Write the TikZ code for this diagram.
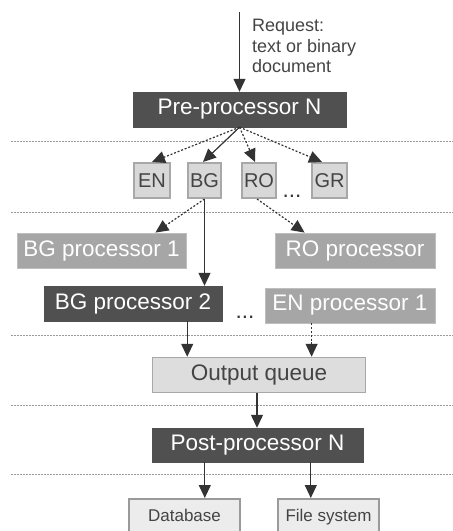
\documentclass[tikz,border=0pt]{standalone}
\usepackage{fontspec}
\setmainfont{Liberation Sans}
\usetikzlibrary{arrows.meta,calc}
\definecolor{darkbox}{HTML}{505050}
\definecolor{midbox}{HTML}{A6A6A6}
\definecolor{midborder}{HTML}{BEBEBE}
\definecolor{langfill}{HTML}{D8D8D8}
\definecolor{langborder}{HTML}{A8A8A8}
\definecolor{outfill}{HTML}{DDDDDD}
\definecolor{storefill}{HTML}{ECECEC}
\definecolor{storeborder}{HTML}{9A9A9A}
\definecolor{arrowcol}{HTML}{333333}
\definecolor{sepcol}{HTML}{9A9A9A}
\definecolor{txtdark}{HTML}{444444}
\tikzset{
  big/.style={font=\fontsize{22.5}{27}\selectfont, inner sep=0pt},
  darkproc/.style={big, fill=darkbox, draw=darkbox, text=white},
  midproc/.style={big, fill=midbox, draw=midborder, line width=0.8pt, text=white},
  langbox/.style={font=\fontsize{20}{24}\selectfont, inner sep=0pt, fill=langfill, draw=langborder, line width=2pt, text=txtdark},
  queuebox/.style={big, fill=outfill, draw=langborder, line width=1.5pt, text=txtdark},
  storebox/.style={font=\fontsize{17}{20}\selectfont, inner sep=0pt, fill=storefill, draw=storeborder, line width=2pt, text=txtdark, text height=12.5pt, text depth=3.5pt},
  conn/.style={draw=arrowcol, line width=1.2pt, -{Triangle[length=13pt,width=12pt]}, arrowcol},
  dconn/.style={conn, dash pattern=on 2pt off 1.8pt},
  sepline/.style={draw=sepcol, line width=0.8pt, dash pattern=on 1.5pt off 1.5pt},
  dotstext/.style={font=\fontsize{22.5}{27}\selectfont, text=arrowcol, inner sep=0pt},
}
\begin{document}
\begin{tikzpicture}[x=1pt,y=-1pt]
\useasboundingbox (0,0) rectangle (453,531);
% separators
\foreach \yy/\nm in {141/s1,212/s2,335/s3,405/s4,474/s5}{
  \coordinate (\nm a) at (11,\yy);
  \coordinate (\nm b) at (453,\yy);
  \draw[sepline] (\nm a) -- (\nm b);
}
% nodes
\node[darkproc, minimum width=213pt, minimum height=35pt] (pre) at (239.5,109.5) {Pre-processor N};
\node[langbox, minimum width=36pt, minimum height=35pt] (en) at (152,180.5) {EN};
\node[langbox, minimum width=33pt, minimum height=35pt] (bg) at (204.5,180.5) {BG};
\node[langbox, minimum width=34pt, minimum height=35pt] (ro) at (259,180.5) {RO};
\node[langbox, minimum width=35pt, minimum height=35pt] (gr) at (329.5,180.5) {GR};
\node[dotstext, anchor=base] (dotsa) at (292,197) {...};
\node[midproc, minimum width=169pt, minimum height=35pt] (bgone) at (101.5,250.5) {BG processor 1};
\node[midproc, minimum width=160pt, minimum height=35pt] (roproc) at (355,250.5) {RO processor};
\node[darkproc, minimum width=178pt, minimum height=35pt] (bgtwo) at (133,303.5) {BG processor 2};
\node[midproc, minimum width=170pt, minimum height=35pt] (enone) at (350,305.5) {EN processor 1};
\node[dotstext, anchor=base] (dotsb) at (245,318) {...};
\node[queuebox, minimum width=213pt, minimum height=35pt] (out) at (259,375) {Output queue};
\node[darkproc, minimum width=211pt, minimum height=34pt] (post) at (257.5,445) {Post-processor N};
\node[storebox, minimum width=111pt, minimum height=36pt] (db) at (184.5,517) {Database};
\node[storebox, minimum width=101pt, minimum height=36pt] (fs) at (328.5,517) {File system};
% request
\coordinate (req) at (239.5,12);
\node[anchor=north west, inner sep=0pt, align=left, text=txtdark,
      font=\fontsize{18}{20.7}\selectfont] (reqtext) at (252,19) {Request:\\text or binary\\document};
\draw[conn] (req) -- (pre.north);
% fan out
\draw[dconn] (pre.south) -- (en.north);
\draw[conn] (pre.south) -- ($(bg.north)+(-1.5,0)$);
\draw[dconn] (pre.south) -- ($(ro.north)+(-4,0)$);
\draw[dconn] (pre.south) -- ($(gr.north)+(-7.5,0)$);
% language to processors
\draw[dconn] (bg.south) -- ($(bgone.north east)+(-31,0)$);
\draw[conn] (bg.south) -- (bg.south |- bgtwo.north);
\draw[dconn] ($(ro.south)+(-2,0)$) -- ($(roproc.north west)+(30,0)$);
% processors to queue
\coordinate (bgtwoout) at ($(bgtwo.south east)+(-35,0)$);
\draw[conn] (bgtwoout) -- (bgtwoout |- out.north);
\coordinate (enoneout) at ($(enone.south west)+(47,0)$);
\draw[dconn] (enoneout) -- (enoneout |- out.north);
% queue to post
\coordinate (outdown) at ($(out.south)+(-2,0)$);
\draw[conn] (outdown) -- (outdown |- post.north);
% post to stores
\coordinate (postdb) at ($(post.south west)+(53,0)$);
\draw[conn] (postdb) -- (postdb |- db.north);
\coordinate (postfs) at ($(post.south west)+(159,0)$);
\draw[conn] (postfs) -- (postfs |- fs.north);
\end{tikzpicture}
\end{document}
